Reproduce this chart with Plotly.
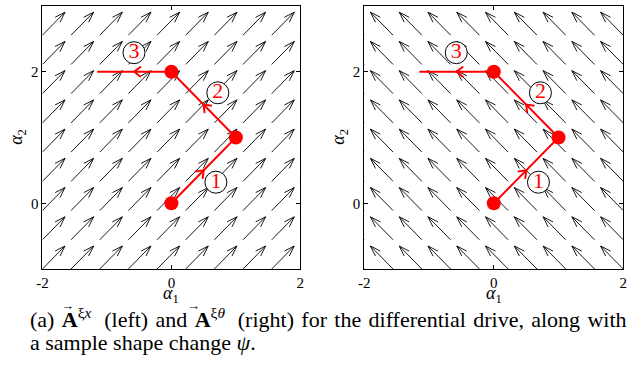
import numpy as np
import plotly.graph_objects as go

# ---- data ----
grid_x = [-2.0, -1.556, -1.111, -0.667, -0.222, 0.222, 0.667, 1.111, 1.556, 2.0]
grid_y = [-1.0, -0.556, -0.111, 0.333, 0.778, 1.222, 1.667, 2.111, 2.556, 3.0]
field_left = (0.35, 0.35)     # A^{xi_x}
field_right = (-0.35, 0.35)   # A^{xi_theta}

path_x = [0, 1, 0, -1.15]
path_y = [0, 1, 2, 2]
dot_x = [0, 1, 0]
dot_y = [0, 1, 2]

label_x = [0.69, 0.72, -0.58]
label_y = [0.32, 1.68, 2.29]
label_text = ["1", "2", "3"]

xtick_vals = [-2, 0, 2]
xtick_text = ["-2", "0", "2"]
ytick_vals = [0, 2]
ytick_text = ["0", "2"]

SERIF = "Liberation Serif, Times New Roman, Times, serif"


def quiver_lines(u, v, alpha=0.33, beta=0.33):
    xs, ys = [], []
    for gx in grid_x:
        for gy in grid_y:
            tx, ty = gx + u, gy + v
            xs += [gx, tx, None]
            ys += [gy, ty, None]
            h1x = tx - alpha * (u + beta * v)
            h1y = ty - alpha * (v - beta * u)
            h2x = tx - alpha * (u - beta * v)
            h2y = ty - alpha * (v + beta * u)
            xs += [h1x, tx, h2x, None]
            ys += [h1y, ty, h2y, None]
    return xs, ys


def path_heads(L=0.13, ang=np.deg2rad(38)):
    xs, ys = [], []
    for i in range(len(path_x) - 1):
        x0, y0, x1, y1 = path_x[i], path_y[i], path_x[i + 1], path_y[i + 1]
        mx, my = (x0 + x1) / 2, (y0 + y1) / 2
        d = np.array([x1 - x0, y1 - y0], float)
        d /= np.linalg.norm(d)
        for s in (1, -1):
            c, sn = np.cos(s * ang), np.sin(s * ang)
            wx = c * d[0] - sn * d[1]
            wy = sn * d[0] + c * d[1]
            xs += [mx - L * wx, mx]
            ys += [my - L * wy, my]
        xs += [None]
        ys += [None]
    return xs, ys


fig = go.Figure()
for k, (field, ax) in enumerate([(field_left, ""), (field_right, "2")]):
    xa, ya = "x" + ax, "y" + ax
    qx, qy = quiver_lines(*field)
    fig.add_trace(go.Scatter(x=qx, y=qy, mode="lines", xaxis=xa, yaxis=ya,
                             line=dict(color="black", width=0.9), hoverinfo="skip"))
    fig.add_trace(go.Scatter(x=path_x, y=path_y, mode="lines", xaxis=xa, yaxis=ya,
                             line=dict(color="red", width=2)))
    hx, hy = path_heads()
    fig.add_trace(go.Scatter(x=hx, y=hy, mode="lines", xaxis=xa, yaxis=ya,
                             line=dict(color="red", width=2)))
    fig.add_trace(go.Scatter(x=dot_x, y=dot_y, mode="markers", xaxis=xa, yaxis=ya,
                             marker=dict(color="red", size=14, line=dict(width=0))))
    fig.add_trace(go.Scatter(x=label_x, y=label_y, mode="markers+text", xaxis=xa, yaxis=ya,
                             text=label_text, textposition="middle center",
                             textfont=dict(family=SERIF, size=22, color="red"),
                             marker=dict(color="white", size=22,
                                         line=dict(color="black", width=1))))

axis_common = dict(showgrid=False, zeroline=False, showline=True, linecolor="black",
                   linewidth=1, mirror="ticks", ticks="inside", ticklen=4,
                   tickcolor="black", tickfont=dict(family=SERIF, size=15, color="black"))

fig.update_layout(
    width=644, height=367, margin=dict(l=0, r=0, t=0, b=0),
    paper_bgcolor="white", plot_bgcolor="white", showlegend=False,
    font=dict(family=SERIF),
    xaxis=dict(domain=[37 / 644, 299 / 644], range=[-2, 2], tickvals=xtick_vals,
               ticktext=xtick_text, anchor="y", **axis_common),
    yaxis=dict(domain=[1 - 269 / 367, 1 - 6 / 367], range=[-1, 3], tickvals=ytick_vals,
               ticktext=ytick_text, anchor="x", **axis_common),
    xaxis2=dict(domain=[364 / 644, 627 / 644], range=[-2, 2], tickvals=xtick_vals,
                ticktext=xtick_text, anchor="y2", **axis_common),
    yaxis2=dict(domain=[1 - 269 / 367, 1 - 6 / 367], range=[-1, 3], tickvals=ytick_vals,
                ticktext=ytick_text, anchor="x2", **axis_common),
)

# axis titles
for xd in [(37 + 299) / 2 / 644, (364 + 627) / 2 / 644]:
    fig.add_annotation(x=xd, y=1 - 294 / 367, xref="paper", yref="paper",
                       xanchor="center", yanchor="middle",
                       text="<i>α</i><sub>1</sub>", showarrow=False,
                       font=dict(family=SERIF, size=18, color="black"))
for xp in [11 / 644, 338 / 644]:
    fig.add_annotation(x=xp, y=1 - 137 / 367, xref="paper", yref="paper",
                       xanchor="center", yanchor="middle",
                       text="<i>α</i><sub>2</sub>", showarrow=False, textangle=-90,
                       font=dict(family=SERIF, size=18, color="black"))

# caption (justified first line: hair spaces widen the gaps)
SP = " \u200a"
line1 = ("(a)" + SP + "<b>A</b><sup>ξ<i>x</i></sup>" + SP + " (left)" + SP + "and" + SP +
         "<b>A</b><sup>ξ<i>θ</i></sup>" + SP + " (right)" + SP + "for" + SP + "the" + SP +
         "differential" + SP + "drive," + SP + "along" + SP + "with")
fig.add_annotation(x=22 / 644, y=1 - 318 / 367, xref="paper", yref="paper",
                   xanchor="left", yanchor="middle", showarrow=False, text=line1,
                   font=dict(family=SERIF, size=22, color="black"))
fig.add_annotation(x=22 / 644, y=1 - 342 / 367, xref="paper", yref="paper",
                   xanchor="left", yanchor="middle", showarrow=False,
                   text="a sample shape change <i>ψ</i>.",
                   font=dict(family=SERIF, size=22, color="black"))
# vector arrows over the bold A's
for xa_px in [62, 190]:
    fig.add_annotation(x=xa_px / 644, y=1 - 305 / 367, xref="paper", yref="paper",
                       xanchor="center", yanchor="middle", showarrow=False, text="→",
                       font=dict(family=SERIF, size=13, color="black"))

fig.write_html("out.html")
